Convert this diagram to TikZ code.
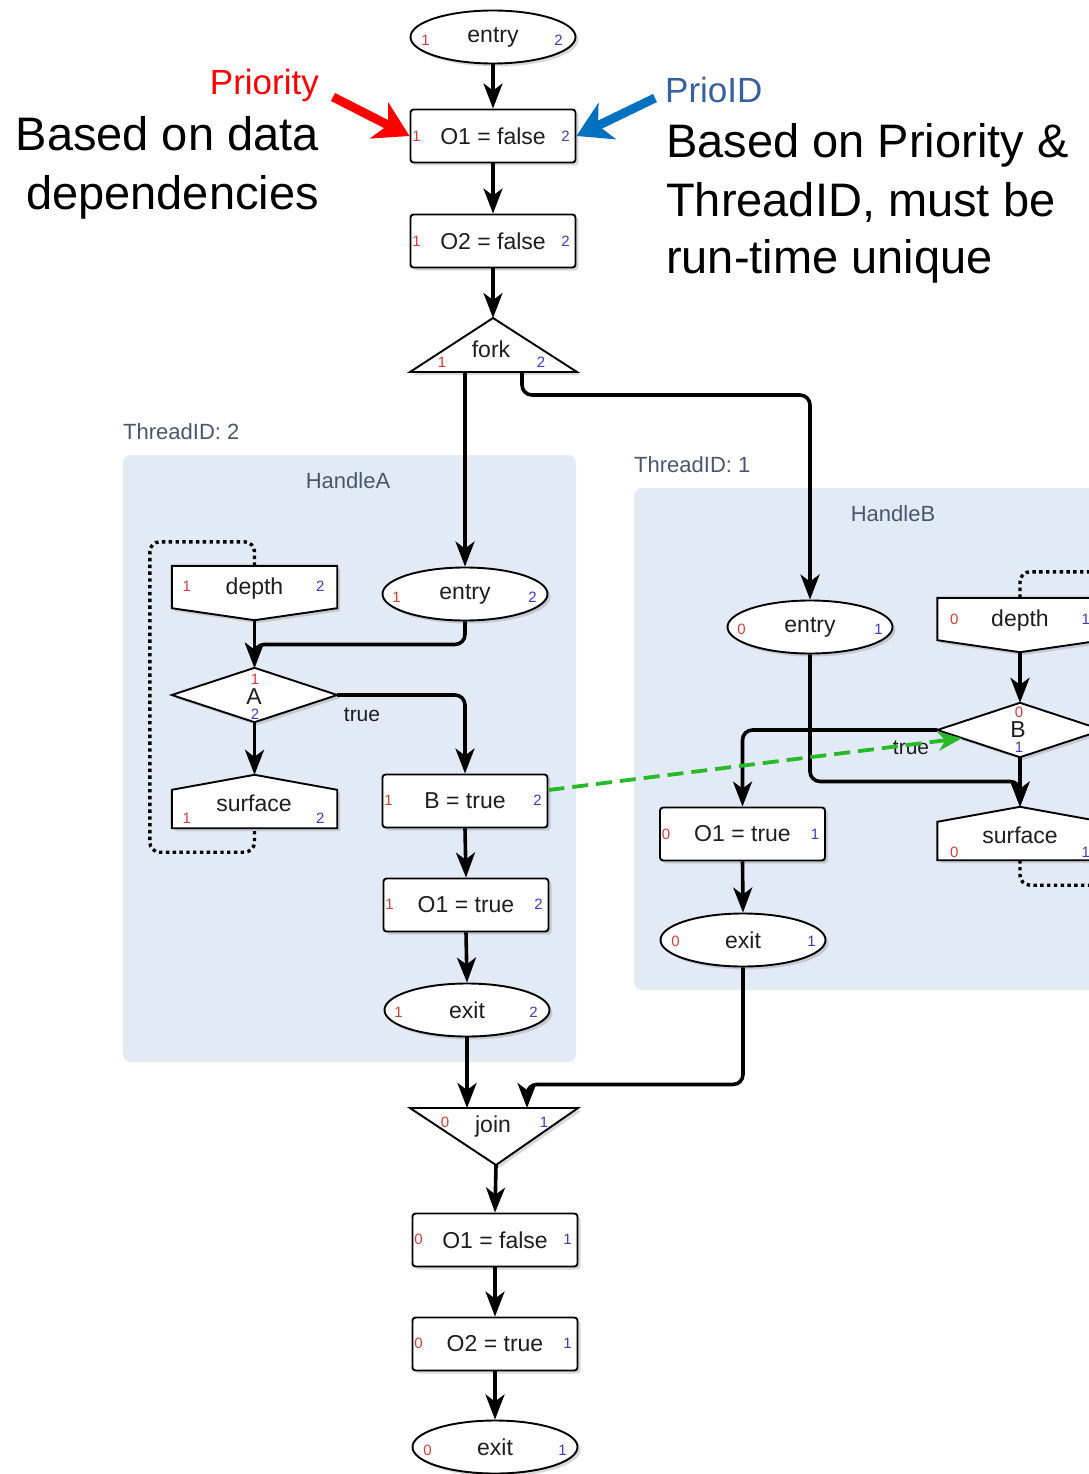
\documentclass[tikz,border=0pt]{standalone}
\usepackage{fontspec}
\setmainfont{Liberation Sans}
\setsansfont{Liberation Sans}
\usetikzlibrary{shapes.geometric,arrows.meta,calc,shadows}

\definecolor{clusterfill}{RGB}{226,234,246}
\definecolor{portred}{RGB}{214,60,60}
\definecolor{portblue}{RGB}{60,60,190}
\definecolor{clustertext}{RGB}{72,86,112}
\definecolor{ink}{RGB}{30,30,30}
\definecolor{depgreen}{RGB}{40,185,40}
\definecolor{prioblue}{RGB}{0,112,192}
\definecolor{priotext}{RGB}{55,96,160}

\tikzset{
  softshadow/.style={drop shadow={shadow xshift=3pt, shadow yshift=-3pt, opacity=0.3}},
  base/.style={draw=black, line width=1.9pt, fill=white, inner sep=0pt,
    font=\fontsize{23}{27}\selectfont, text=ink},
  stmt/.style={base, softshadow, rectangle, rounded corners=3pt,
    minimum width=165pt, minimum height=53pt},
  term/.style={base, softshadow, ellipse, minimum width=165pt, minimum height=53pt},
  ghost/.style={rectangle, inner sep=0pt, minimum width=165pt},
  shapeline/.style={draw=black, line width=1.9pt, fill=white, softshadow, line join=miter},
  lbl/.style={inner sep=0pt, font=\fontsize{23}{27}\selectfont, text=ink},
  edgelbl/.style={inner sep=0pt, font=\fontsize{21}{25}\selectfont, text=ink},
  portl/.style={inner sep=0pt, font=\fontsize{15}{17}\selectfont, text=portred},
  portr/.style={inner sep=0pt, font=\fontsize{15}{17}\selectfont, text=portblue},
  clusterbox/.style={fill=clusterfill, rounded corners=8pt},
  clusterlbl/.style={inner sep=0pt, font=\fontsize{22}{26}\selectfont, text=clustertext},
  flow/.style={draw=black, line width=3.6pt, rounded corners=10pt,
    -{Stealth[length=25pt,width=19pt,inset=7pt]}},
  loopline/.style={draw=black, line width=3.4pt, rounded corners=10pt,
    dash pattern=on 3.4pt off 3.4pt},
  dep/.style={draw=depgreen, line width=3.8pt, dash pattern=on 16pt off 8pt,
    -{Stealth[length=24pt,width=19pt,inset=7pt]}},
  annot/.style={line width=9pt, -{Stealth[length=34pt,width=40pt,inset=10pt]}},
  bigtext/.style={inner sep=0pt, font=\fontsize{47}{57}\selectfont, text=black},
  midtext/.style={inner sep=0pt, font=\fontsize{35}{40}\selectfont},
}

% port numbers on both sides of a node: name, left, right, left inset, right inset, dy
\newcommand\ports[6]{%
  \node[portl] (#1-l) at ($(#1.west)+(#4,#6)$) {#2};
  \node[portr] (#1-r) at ($(#1.east)+(-#5,#6)$) {#3};}

\begin{document}
\begin{tikzpicture}[x=1pt,y=-1pt]
\useasboundingbox (0,0) rectangle (1088,1474);

% ---- thread clusters
\path[clusterbox] (123,455) rectangle (576,1062);
\path[clusterbox] (634,488) rectangle (1130,990);
\node[clusterlbl, anchor=base west] (tidA) at (123,439) {ThreadID: 2};
\node[clusterlbl, anchor=base west] (tidB) at (634,472) {ThreadID: 1};
\node[clusterlbl] (hA) at (348,481) {HandleA};
\node[clusterlbl] (hB) at (893,514) {HandleB};

% ---- main spine, top
\node[term] (entry) at (493,37) {entry};
\ports{entry}{1}{2}{16}{18}{3}
\node[stmt] (o1f) at (493,136) {O1 = false};
\ports{o1f}{1}{2}{7}{11}{0}
\node[stmt] (o2f) at (493,241) {O2 = false};
\ports{o2f}{1}{2}{7}{11}{0}

% fork
\coordinate (forktop) at (493,318);
\coordinate (forkL) at (465,372);
\coordinate (forkR) at (522,372);
\path[shapeline] (forktop) -- (577,372) -- (410,372) -- cycle;
\node[lbl] (fork) at (491,349) {fork};
\node[portl] (fork-l) at (442,362) {1};
\node[portr] (fork-r) at (541,362) {2};

% ---- HandleA
\node[ghost, minimum height=42pt] (depthA) at (254.5,587) {};
\path[shapeline] (depthA.north west) -- (depthA.north east) -- (depthA.south east)
  -- ($(depthA.south)+(0,12)$) coordinate (depthAtip) -- (depthA.south west) -- cycle;
\node[lbl] (depthAt) at ($(depthA.center)+(0,2)$) {depth};
\ports{depthA}{1}{2}{15}{17}{-1}

\node[term] (entA) at (465,594) {entry};
\ports{entA}{1}{2}{15}{16}{3}

\node[ghost, minimum height=54pt] (Adia) at (254.5,695) {};
\path[shapeline] (Adia.west) -- (Adia.north) -- (Adia.east) -- (Adia.south) -- cycle;
\node[lbl] (At) at (254,697) {A};
\node[portl] (Adia-t) at (255,679) {1};
\node[portr] (Adia-b) at (255,714) {2};

\node[ghost, minimum height=38pt] (surfA) at (254.5,809) {};
\path[shapeline] ($(surfA.north)+(0,-15)$) coordinate (surfAtip) -- (surfA.north east)
  -- (surfA.south east) -- (surfA.south west) -- (surfA.north west) -- cycle;
\node[lbl] (surfAt) at (254,803) {surface};
\ports{surfA}{1}{2}{15}{17}{9}

\node[stmt] (bA) at (465,801) {B = true};
\ports{bA}{1}{2}{7}{11}{-1}
\node[stmt] (o1tA) at (466,905) {O1 = true};
\ports{o1tA}{1}{2}{7}{11}{-1}
\node[term] (exA) at (467,1010) {exit};
\ports{exA}{1}{2}{15}{17}{2}

% ---- HandleB
\node[term] (entB) at (810,627) {entry};
\ports{entB}{0}{1}{15}{15}{2}

\node[ghost, minimum height=42pt] (depthB) at (1020,619) {};
\path[shapeline] (depthB.north west) -- (depthB.north east) -- (depthB.south east)
  -- ($(depthB.south)+(0,12)$) coordinate (depthBtip) -- (depthB.south west) -- cycle;
\node[lbl] (depthBt) at ($(depthB.center)+(0,2)$) {depth};
\ports{depthB}{0}{1}{17}{17}{0}

\node[ghost, minimum height=54pt] (Bdia) at (1020,730) {};
\path[shapeline] (Bdia.west) -- (Bdia.north) -- (Bdia.east) -- (Bdia.south) -- cycle;
\node[lbl] (Bt) at (1018,730) {B};
\node[portl] (Bdia-t) at (1019,712) {0};
\node[portr] (Bdia-b) at (1019,747) {1};

\node[ghost, minimum height=38pt] (surfB) at (1020,841) {};
\path[shapeline] ($(surfB.north)+(0,-15)$) coordinate (surfBtip) -- (surfB.north east)
  -- (surfB.south east) -- (surfB.south west) -- (surfB.north west) -- cycle;
\node[lbl] (surfBt) at (1020,835) {surface};
\ports{surfB}{0}{1}{17}{17}{11}

\node[stmt] (o1tB) at (742.5,834) {O1 = true};
\ports{o1tB}{0}{1}{7}{11}{0}
\node[term] (exB) at (743,940) {exit};
\ports{exB}{0}{1}{16}{15}{1}

% ---- main spine, bottom
\coordinate (joinL) at (467,1108);
\coordinate (joinR) at (527,1108);
\coordinate (joinbot) at (496,1165);
\path[shapeline] (410,1108) -- (578,1108) -- (joinbot) -- cycle;
\node[lbl] (join) at (493,1127) {join};
\node[portl] (join-l) at (445,1122) {0};
\node[portr] (join-r) at (544,1122) {1};

\node[stmt] (o1fC) at (495,1240) {O1 = false};
\ports{o1fC}{0}{1}{7}{11}{-1}
\node[stmt] (o2tC) at (495,1344) {O2 = true};
\ports{o2tC}{0}{1}{7}{11}{-1}
\node[term] (exC) at (495,1447) {exit};
\ports{exC}{0}{1}{16}{16}{3}

% ---- control flow
\draw[flow] (entry.south) -- (o1f.north);
\draw[flow] (o1f.south) -- (o2f.north);
\draw[flow] (o2f.south) -- (forktop);
\draw[flow] (forkL) -- (entA.north);
\draw[flow] (forkR) -- ++(0,23) -| (entB.north);

\draw[flow] (depthAtip) -- (Adia.north);
\draw[flow] (entA.south) -- ++(0,23) -| (Adia.north);
\draw[flow] (Adia.east) -| (bA.north);
\draw[flow] (Adia.south) -- (surfAtip);
\draw[flow] (bA.south) -- (o1tA.north);
\draw[flow] (o1tA.south) -- (exA.north);
\draw[flow] (exA.south) -- (joinL);

\draw[flow] (depthBtip) -- (Bdia.north);
\draw[flow] (entB.south) -- ++(0,127) -| (surfBtip);
\draw[flow] (Bdia.west) -| (o1tB.north);
\draw[flow] (Bdia.south) -- (surfBtip);
\draw[flow] (o1tB.south) -- (exB.north);
\draw[flow] (exB.south) -- ++(0,117) -| (joinR);

\draw[flow] (joinbot) -- (o1fC.north);
\draw[flow] (o1fC.south) -- (o2tC.north);
\draw[flow] (o2tC.south) -- (exC.north);

\node[edgelbl] (trueA) at (362,715) {true};
\node[edgelbl] (trueB) at (911,748) {true};

% loops between depth and surface
\draw[loopline] (depthA.north) -- ++(0,-24) -| ($(surfA.south west)+(-22,24)$) -| (surfA.south);
\draw[loopline] (depthB.north) -- ++(0,-26) -- ++(130,0);
\draw[loopline] (surfB.south) -- ++(0,25) -- ++(130,0);

% data dependency
\draw[dep] ($(bA.east)+(0,-11)$) -- ($(Bdia.west)!0.3!(Bdia.south)$);

% ---- annotations
\node[midtext, text=red, anchor=base east] (prio) at (319,95) {Priority};
\node[bigtext, anchor=base east] (bd1) at (319,151) {Based on data};
\node[bigtext, anchor=base east] (bd2) at (319,209) {dependencies};
\coordinate (redtail) at (333,97);
\draw[annot, draw=red, fill=red] (redtail) -- (o1f.west);

\node[midtext, text=priotext, anchor=base west] (prioid) at (665,103) {PrioID};
\node[bigtext, anchor=base west] (bp1) at (666,158) {Based on Priority \&};
\node[bigtext, anchor=base west] (bp2) at (666,216) {ThreadID, must be};
\node[bigtext, anchor=base west] (bp3) at (666,273) {run-time unique};
\coordinate (bluetail) at (655,98);
\draw[annot, draw=prioblue, fill=prioblue] (bluetail) -- (o1f.east);

\end{tikzpicture}
\end{document}
